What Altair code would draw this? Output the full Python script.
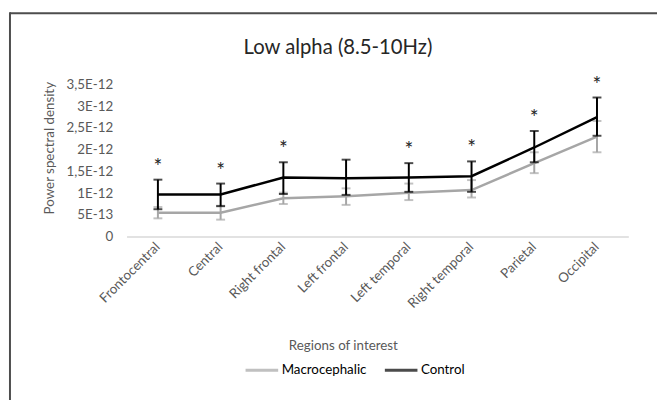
import altair as alt
import pandas as pd

regions = ["Frontocentral", "Central", "Right frontal", "Left frontal",
           "Left temporal", "Right temporal", "Parietal", "Occipital"]
# values in units of 1E-12
control = [0.97, 0.97, 1.36, 1.34, 1.36, 1.39, 2.05, 2.75]
control_low = [0.63, 0.70, 0.98, 0.96, 1.03, 1.03, 1.71, 2.32]
control_high = [1.31, 1.22, 1.71, 1.77, 1.69, 1.73, 2.43, 3.20]
macro = [0.55, 0.55, 0.88, 0.93, 1.01, 1.07, 1.69, 2.30]
macro_low = [0.42, 0.39, 0.75, 0.73, 0.84, 0.90, 1.46, 1.94]
macro_high = [0.68, 0.71, 1.01, 1.11, 1.22, 1.30, 1.94, 2.66]
significant = [True, True, True, False, True, True, True, True]
y_tick_labels = ["0", "5E-13", "1E-12", "1,5E-12", "2E-12", "2,5E-12", "3E-12", "3,5E-12"]
chart_title = "Low alpha (8.5-10Hz)"

UNIT = 1e-12
rows = []
for i, r in enumerate(regions):
    rows.append({"region": r, "group": "Macrocephalic", "order": 0,
                 "value": macro[i] * UNIT, "low": macro_low[i] * UNIT,
                 "high": macro_high[i] * UNIT, "sig": False})
    rows.append({"region": r, "group": "Control", "order": 1,
                 "value": control[i] * UNIT, "low": control_low[i] * UNIT,
                 "high": control_high[i] * UNIT, "sig": significant[i]})
df = pd.DataFrame(rows)

FONT = "Lato"
TXT = "#595959"
FS = 13.5
label_expr = "[" + ",".join("'%s'" % s for s in y_tick_labels) + "][round(datum.value*2e12)]"

x_axis = alt.Axis(title="Regions of interest", labelAngle=-45, labelAlign="right",
                  labelBaseline="middle", labelPadding=8, ticks=False,
                  domainColor="#d9d9d9", domainWidth=1.5, labelColor=TXT,
                  labelFont=FONT, labelFontSize=FS, titleFont=FONT,
                  titleFontSize=FS, titleFontWeight="normal", titleColor=TXT,
                  titleX=219, titleY=110, titleBaseline="middle")
y_scale = alt.Scale(domain=[0, 3.5e-12], nice=False)
y_axis = alt.Axis(title="Power spectral density", values=[i * 0.5e-12 for i in range(8)],
                  labelExpr=label_expr, labelOverlap=False, grid=False, domain=False,
                  ticks=False, labelPadding=14, labelColor=TXT, labelFont=FONT,
                  labelFontSize=FS, titleFont=FONT, titleFontSize=FS,
                  titleFontWeight="normal", titleColor=TXT, titleX=-78, titleY=64,
                  titleAngle=-90, titleAlign="center", titleBaseline="middle")


def X():
    return alt.X("region:N", sort=regions, axis=x_axis)


def Y(field):
    return alt.Y(field + ":Q", scale=y_scale, axis=y_axis)


color = alt.Color("group:N", scale=alt.Scale(domain=["Macrocephalic", "Control"],
                                             range=["#a6a6a6", "#000000"]),
                  legend=alt.Legend(title=None, orient="none", legendX=119, legendY=271,
                                    direction="horizontal", symbolType="stroke",
                                    symbolSize=1089, symbolStrokeWidth=3,
                                    labelFont=FONT, labelFontSize=FS, labelColor="#000000",
                                    labelOffset=2, columnPadding=12))

base = alt.Chart(df)

layers = []
for g in ["Macrocephalic", "Control"]:
    d = base.transform_filter(alt.datum.group == g)
    layers.append(d.mark_line(strokeWidth=2.5).encode(x=X(), y=Y("value"), color=color))
    layers.append(d.mark_rule(strokeWidth=2).encode(
        x=X(), y=Y("low"), y2="high:Q", color=color))
    layers.append(d.mark_tick(thickness=2, size=9).encode(x=X(), y=Y("low"), color=color))
    layers.append(d.mark_tick(thickness=2, size=9).encode(x=X(), y=Y("high"), color=color))

stars = base.transform_filter(alt.datum.sig).mark_text(
    text="*", fontSize=21, font=FONT, color="#262626",
    baseline="middle", dy=-12).encode(x=X(), y=Y("high"))
layers.append(stars)

frame_df = pd.DataFrame({"a": [0]})
frame_top = alt.Chart(frame_df).mark_rule(color="#4d4d4d", strokeWidth=2).encode(
    x=alt.value(-118), x2=alt.value(540), y=alt.value(-72))
frame_left = alt.Chart(frame_df).mark_rule(color="#4d4d4d", strokeWidth=2).encode(
    x=alt.value(-118), y=alt.value(-73), y2=alt.value(330))
title_mark = alt.Chart(frame_df).mark_text(
    text=chart_title, font=FONT, fontSize=20.5, color="#262626",
    align="center", baseline="middle").encode(x=alt.value(214), y=alt.value(-37))

chart = alt.layer(*layers, frame_top, frame_left, title_mark).properties(
    width=508, height=154,
    autosize=alt.AutoSizeParams(type="none"),
    padding={"left": 120, "top": 75, "right": 29, "bottom": 163},
).configure_view(stroke=None)

chart.save("out.html", embed_options={"renderer": "svg", "actions": False})
